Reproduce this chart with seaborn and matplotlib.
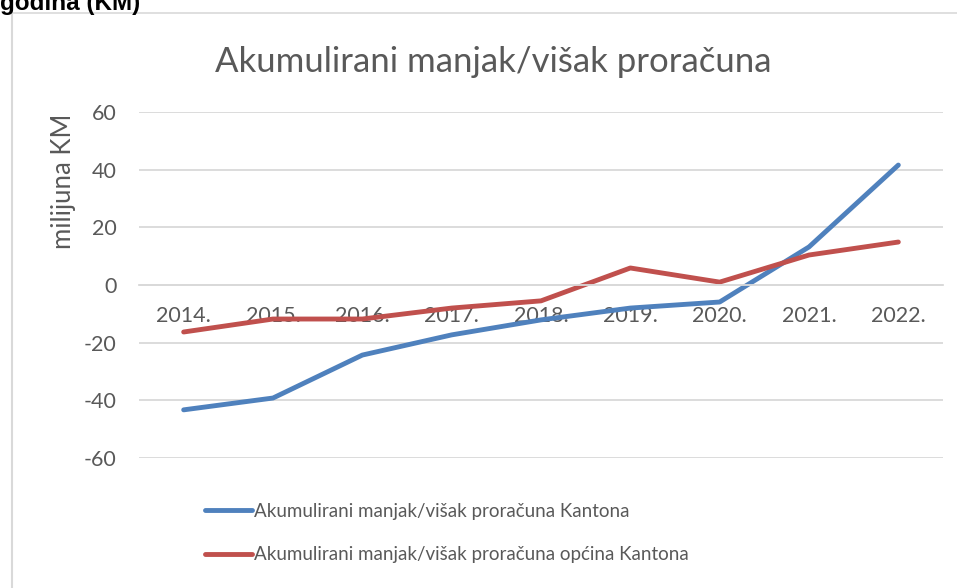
import numpy as np
import pandas as pd
import seaborn as sns
import matplotlib.pyplot as plt
from matplotlib.lines import Line2D

sns.set_style("white")
plt.rcParams['font.family'] = ['Lato', 'DejaVu Sans']

# data (milijuna KM)
years = ["2014.", "2015.", "2016.", "2017.", "2018.", "2019.", "2020.", "2021.", "2022."]
kanton = [-43.3, -39.2, -24.3, -17.3, -12.1, -8.0, -5.9, 13.2, 41.6]
opcine = [-16.3, -11.8, -11.8, -8.0, -5.5, 5.9, 1.0, 10.4, 14.9]
series_names = ["Akumulirani manjak/višak proračuna Kantona",
                "Akumulirani manjak/višak proračuna općina Kantona"]
yticks = [-60, -40, -20, 0, 20, 40, 60]

df = pd.DataFrame({
    "godina": years * 2,
    "vrijednost": kanton + opcine,
    "serija": [series_names[0]] * len(years) + [series_names[1]] * len(years),
})

fig = plt.figure(figsize=(9.57, 5.88), dpi=100)
ax = fig.add_axes([139 / 957, 1 - 458 / 588, (943 - 139) / 957, (458 - 112) / 588])

sns.lineplot(data=df, x="godina", y="vrijednost", hue="serija", sort=False,
             palette=["#4F81BD", "#C0504D"], linewidth=3.5, ax=ax,
             solid_capstyle="round")

ax.set_xlim(-0.5, len(years) - 0.5)
ax.set_ylim(-60, 60)
ax.set_yticks(yticks)
ax.set_yticklabels([str(v) for v in yticks])
ax.yaxis.grid(True, color="#d9d9d9", linewidth=1.3)
ax.set_axisbelow(True)

for s in ["top", "right", "left"]:
    ax.spines[s].set_visible(False)
ax.spines["bottom"].set_position(("data", 0))
ax.spines["bottom"].set_color("#d9d9d9")
ax.spines["bottom"].set_linewidth(1.3)

ax.tick_params(axis="x", length=0, pad=15, labelsize=15.5, labelcolor="#595959")
ax.tick_params(axis="y", length=0, pad=16, labelsize=15.5, labelcolor="#595959")
ax.set_xlabel("")
ax.set_ylabel("milijuna KM", fontsize=18.5, color="#595959")
ax.yaxis.set_label_coords(63 / 957, 1 - 181 / 588, transform=fig.transFigure)
ax.yaxis.label.set_va("center")

fig.text(493 / 957, 1 - 62 / 588, "Akumulirani manjak/višak proračuna",
         ha="center", va="center", fontsize=25, color="#595959")

ax.legend(loc="upper left", bbox_to_anchor=(188 / 957, 1 - 486 / 588),
          bbox_transform=fig.transFigure, frameon=False, fontsize=13.5,
          handlelength=2.5, handletextpad=0.1, labelspacing=1.4,
          labelcolor="#595959")

# chart frame and clipped heading above it
fig.add_artist(Line2D([12 / 957, 12 / 957], [0, 1 - 13 / 588],
                      transform=fig.transFigure, color="#d9d9d9", linewidth=1.5))
fig.add_artist(Line2D([12 / 957, 1], [1 - 13 / 588, 1 - 13 / 588],
                      transform=fig.transFigure, color="#d9d9d9", linewidth=1.2))
fig.text(0, 1 - 10 / 588, "godina (KM)", ha="left", va="baseline",
         fontsize=17.5, fontweight="bold", family="Liberation Sans", color="black")

fig.savefig("out.png", dpi=100)
